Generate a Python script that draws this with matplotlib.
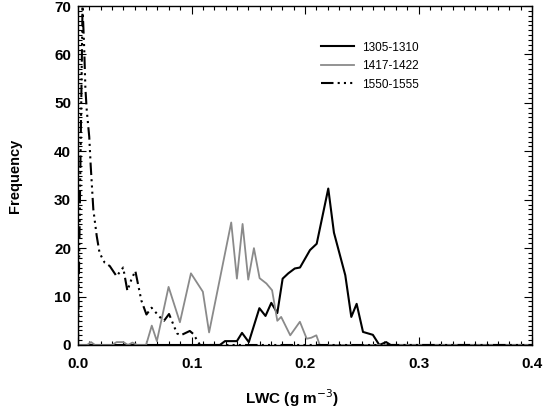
import numpy as np
import matplotlib
matplotlib.use('Agg')
import matplotlib.pyplot as plt
from matplotlib.ticker import MultipleLocator

# ----------------------
# Data (LWC in g m^-3, frequency counts)
# ----------------------
labels = ['1305-1310', '1417-1422', '1550-1555']

lwc_1305 = [0.0, 0.125, 0.1295, 0.14, 0.1445, 0.1505, 0.1598, 0.1652, 0.1703,
            0.1756, 0.1803, 0.1853, 0.191, 0.1956, 0.2044, 0.2103, 0.2205,
            0.2255, 0.2355, 0.2408, 0.2455, 0.2511, 0.2598, 0.2655, 0.2715,
            0.2755, 0.4]
freq_1305 = [0, 0, 0.8, 0.8, 2.5, 0.6, 7.6, 6.0, 8.7,
             6.6, 13.7, 14.8, 15.8, 16.0, 19.6, 20.9, 32.3,
             23.2, 14.4, 5.8, 8.5, 2.7, 2.1, 0, 0.6,
             0, 0]

lwc_1417 = [0.0, 0.008, 0.0115, 0.015, 0.03, 0.034, 0.04, 0.044, 0.048, 0.052,
            0.06, 0.065, 0.0695, 0.0798, 0.0898, 0.0995, 0.11, 0.1155, 0.135,
            0.14, 0.145, 0.15, 0.155, 0.16, 0.166, 0.171, 0.1756, 0.179,
            0.187, 0.1955, 0.2015, 0.2055, 0.21, 0.213, 0.4]
freq_1417 = [0, 0, 0.6, 0, 0, 0.6, 0.6, 0, 0.5, 0,
             0, 4.0, 0.8, 12.0, 4.7, 14.8, 11.0, 2.6, 25.3,
             13.7, 25.0, 13.5, 20.0, 13.8, 12.7, 11.3, 5.0, 5.8,
             2.0, 4.8, 1.3, 1.5, 2.0, 0, 0]

lwc_1550 = [0.0, 0.004, 0.0055, 0.0065, 0.0077, 0.0099, 0.0112, 0.0135, 0.0165,
            0.019, 0.0235, 0.028, 0.034, 0.0398, 0.0435, 0.047, 0.0505, 0.0558,
            0.0603, 0.0648, 0.0728, 0.0758, 0.0802, 0.0872, 0.0905, 0.0985,
            0.1015, 0.1075, 0.4]
freq_1550 = [0, 70, 61, 53, 48.5, 43, 37, 28, 22.5,
             19, 17, 16.3, 14.2, 16, 11.2, 13.5, 15.3, 9.2,
             6.3, 7.7, 5.6, 5.0, 6.4, 2.4, 2.0, 2.9,
             2.3, 0, 0]

# ----------------------
# Figure
# ----------------------
plt.rcParams['font.family'] = ['Liberation Sans', 'DejaVu Sans']

fig = plt.figure(figsize=(5.44, 4.08), dpi=100)
ax = fig.add_axes([78 / 544, 1 - 345 / 408, 454 / 544, 339 / 408])

ax.plot(lwc_1305, freq_1305, color='black', lw=1.5, label=labels[0])
ax.plot(lwc_1417, freq_1417, color='#8a8a8a', lw=1.3, label=labels[1])
ax.plot(lwc_1550, freq_1550, color='black', lw=1.5,
        linestyle=(0, (6, 2, 1, 2, 1, 2, 1, 2)), label=labels[2])

ax.set_xlim(0, 0.4)
ax.set_ylim(0, 70)
ax.set_xticks(np.arange(0, 0.41, 0.1))
ax.set_xticklabels([f'{v:.1f}' for v in np.arange(0, 0.41, 0.1)])
ax.xaxis.set_minor_locator(MultipleLocator(0.01))
ax.yaxis.set_major_locator(MultipleLocator(10))
ax.yaxis.set_minor_locator(MultipleLocator(1))

ax.tick_params(which='both', direction='in', top=True, right=True, width=0.8)
ax.tick_params(which='major', length=6, labelsize=11)
ax.tick_params(which='minor', length=3)
ax.tick_params(axis='x', pad=9)
ax.tick_params(axis='y', pad=5)
for lab in ax.get_xticklabels() + ax.get_yticklabels():
    lab.set_fontweight('bold')
for sp in ax.spines.values():
    sp.set_linewidth(1.0)

ax.set_xlabel('LWC (g m$^{-3}$)', fontsize=11, fontweight='bold')
ax.xaxis.set_label_coords(0.472, -0.125)
ax.set_ylabel('Frequency', fontsize=10.5, fontweight='bold')
ax.yaxis.set_label_coords(-0.123, 0.5)

ax.legend(loc='upper left', bbox_to_anchor=(0.535, 0.895), frameon=False,
          fontsize=8.5, handlelength=2.8, handletextpad=0.7, labelspacing=0.55,
          borderpad=0, borderaxespad=0)

fig.savefig('out.png', dpi=100)
